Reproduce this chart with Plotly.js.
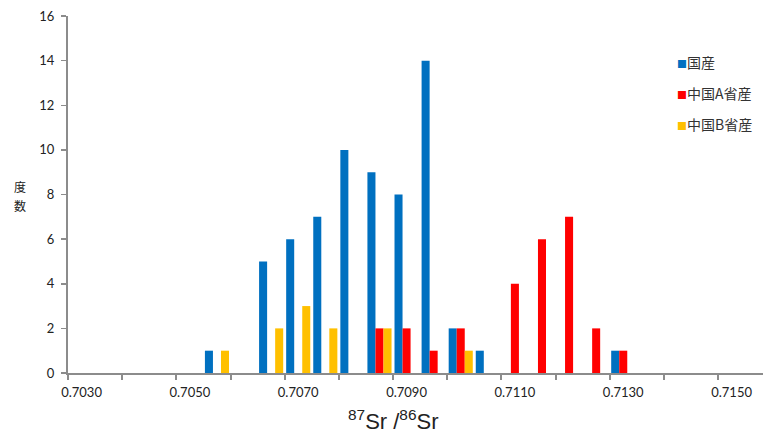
<!DOCTYPE html>
<html><head><meta charset="utf-8">
<script src="https://cdn.plot.ly/plotly-3.0.1.min.js"></script>
<style>html,body{margin:0;padding:0;background:#fff}</style>
</head><body>
<div id="chart" style="width:763px;height:436px"></div>
<script>
const categories = [0.7030,0.7035,0.7040,0.7045,0.7050,0.7055,0.7060,0.7065,0.7070,0.7075,0.7080,0.7085,0.7090,0.7095,0.7100,0.7105,0.7110,0.7115,0.7120,0.7125,0.7130,0.7135,0.7140,0.7145,0.7150];
const domestic  = [0,0,0,0,0,1,0,5,6,7,10,9,8,14,2,1,0,0,0,0,1,0,0,0,0];
const chinaA    = [0,0,0,0,0,0,0,0,0,0,0,2,2,1,2,0,4,6,7,2,1,0,0,0,0];
const chinaB    = [0,0,0,0,0,1,0,2,3,2,0,2,0,0,1,0,0,0,0,0,0,0,0,0,0];
const seriesNames = ['国産','中国A省産','中国B省産'];
const seriesColors = ['#0070C0','#FF0000','#FFC000'];
const xTickVals = [0.7030,0.7050,0.7070,0.7090,0.7110,0.7130,0.7150];
const xTickText = ['0.7030','0.7050','0.7070','0.7090','0.7110','0.7130','0.7150'];
const yTickVals = [0,2,4,6,8,10,12,14,16];
const yTitleChars = ['度','数'];

const seriesData = [domestic, chinaA, chinaB];
const traces = seriesData.map((vals,i)=>({
  type:'bar', x:categories, y:vals, name:seriesNames[i],
  marker:{color:seriesColors[i]}, hoverinfo:'x+y+name'
}));

const legendYs = [0.871, 0.784, 0.697];
const annotations = seriesNames.map((n,i)=>({
  xref:'paper', yref:'paper', x:0.873, y:legendYs[i], xanchor:'left', yanchor:'middle',
  showarrow:false, align:'left',
  text:'<span style="color:'+seriesColors[i]+';font-size:10px">■</span>'+n,
  font:{family:'"Noto Sans CJK JP", sans-serif', size:14, color:'#333'}
}));
const yTitleYs = [0.522, 0.47];
yTitleChars.forEach((c,i)=>annotations.push({
  xref:'paper', yref:'paper', x:-0.069, y:yTitleYs[i], xanchor:'center', yanchor:'middle',
  showarrow:false, text:c,
  font:{family:'"Noto Sans CJK JP", sans-serif', size:12, color:'#222'}
}));
annotations.push({
  xref:'paper', yref:'paper', x:0.468, y:-0.087, xanchor:'center', yanchor:'top',
  showarrow:false, text:'<sup>87</sup>Sr /<sup>86</sup>Sr',
  font:{family:'"Liberation Sans", sans-serif', size:22, color:'#222'}
});

const layout = {
  width:763, height:436,
  margin:{l:68, r:0, t:16, b:63},
  paper_bgcolor:'#fff', plot_bgcolor:'#fff',
  barmode:'group', bargap:0.11, bargroupgap:0,
  showlegend:false,
  font:{family:'Lato, "Liberation Sans", sans-serif', size:13, color:'#222'},
  xaxis:{
    range:[0.70275, 0.71558], tickmode:'array', tickvals:xTickVals, ticktext:xTickText,
    ticks:'', showgrid:false, zeroline:false, showline:true, linecolor:'#8c8c8c', linewidth:2,
    ticklabelstandoff:6,
    minor:{ticks:'outside', tickmode:'linear', tick0:0.70275, dtick:0.001, ticklen:5, tickcolor:'#8c8c8c', tickwidth:2, showgrid:false},
    tickfont:{size:13}
  },
  yaxis:{
    range:[0,16], tickmode:'array', tickvals:yTickVals, ticks:'outside', ticklen:5,
    tickcolor:'#8c8c8c', tickwidth:1.5, showgrid:false, zeroline:false, showline:true,
    linecolor:'#8c8c8c', linewidth:2, ticklabelstandoff:4, tickfont:{size:13}
  },
  annotations:annotations
};
Plotly.newPlot('chart', traces, layout, {displayModeBar:false, staticPlot:true});
</script>
</body></html>
